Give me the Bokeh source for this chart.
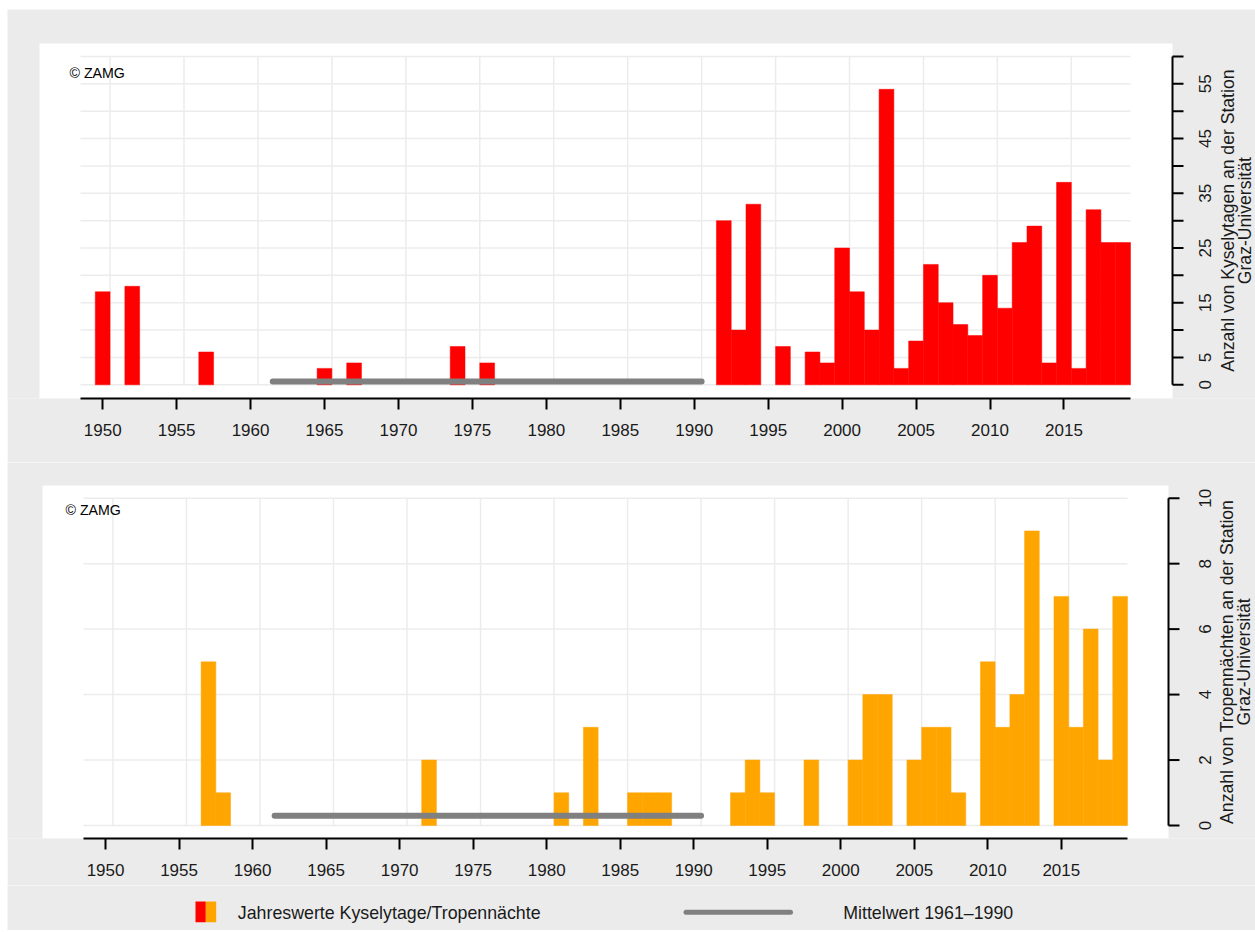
import math
import numpy as np
from bokeh.plotting import figure
from bokeh.layouts import column
from bokeh.models import FixedTicker, Range1d, Label
from bokeh.embed import file_html
from bokeh.resources import INLINE
from bokeh.core.properties import value

# ---------------- data ----------------
years = list(range(1950, 2020))

kyselytage = [
    17, 0, 18, 0, 0, 0, 0, 6, 0, 0,        # 1950-1959
    0, 0, 0, 0, 0, 3, 0, 4, 0, 0,          # 1960-1969
    0, 0, 0, 0, 7, 0, 4, 0, 0, 0,          # 1970-1979
    0, 0, 0, 0, 0, 0, 0, 0, 0, 0,          # 1980-1989
    0, 0, 30, 10, 33, 0, 7, 0, 6, 4,       # 1990-1999
    25, 17, 10, 54, 3, 8, 22, 15, 11, 9,   # 2000-2009
    20, 14, 26, 29, 4, 37, 3, 32, 26, 26,  # 2010-2019
]

tropennaechte = [
    0, 0, 0, 0, 0, 0, 0, 5, 1, 0,          # 1950-1959
    0, 0, 0, 0, 0, 0, 0, 0, 0, 0,          # 1960-1969
    0, 0, 2, 0, 0, 0, 0, 0, 0, 0,          # 1970-1979
    0, 1, 0, 3, 0, 0, 1, 1, 1, 0,          # 1980-1989
    0, 0, 0, 1, 2, 1, 0, 0, 2, 0,          # 1990-1999
    0, 2, 4, 4, 0, 2, 3, 3, 1, 0,          # 2000-2009
    5, 3, 4, 9, 0, 7, 3, 6, 2, 7,          # 2010-2019
]

x_ticks = [1950, 1955, 1960, 1965, 1970, 1975, 1980, 1985, 1990, 1995,
           2000, 2005, 2010, 2015]
x_grid = [1950.5, 1955.5, 1960.5, 1965.5, 1970.5, 1975.5, 1980.5, 1985.5,
          1990.5, 1995.5, 2000.5, 2005.5, 2010.5, 2015.5]
top_y_ticks = [0, 5, 10, 15, 20, 25, 30, 35, 40, 45, 50, 55, 60]
top_y_labels = [0, 5, 15, 25, 35, 45, 55]
bot_y_ticks = [0, 2, 4, 6, 8, 10]
bot_y_labels = [0, 2, 4, 6, 8, 10]

ref_start, ref_end = 1961, 1990
top_title = ["Anzahl von Kyselytagen an der Station", "Graz-Universität"]
bot_title = ["Anzahl von Tropennächten an der Station", "Graz-Universität"]
legend_labels = ["Jahreswerte Kyselytage/Tropennächte", "Mittelwert 1961\u20131990"]

# ---------------- style ----------------
FONT = "Liberation Sans"
BG = "#ebebeb"
GRID = "#ececec"
RED = "#ff0000"
ORANGE = "#ffa500"
MEAN_COL = "#808080"
TXT = "#1a1a1a"
OX, OY = 7, 9          # page offset of the grey area
W = 1255 - OX

X_IN = (1948.5, 2019.5)


def chart(vals, color, yticks, ylabels, ymax, title, fig_top, height,
          panel, inner, label_center, title_centers, zamg):
    p_left, p_right, p_top, p_bottom = panel
    in_left, in_right, in_top, in_base = inner
    ppx = (in_right - in_left) / (X_IN[1] - X_IN[0])
    ppy = (in_base - in_top) / ymax

    def dx(px):
        return X_IN[0] + (px - in_left) / ppx

    def dy(py):
        return (in_base - py) / ppy

    p = figure(width=W, height=height, output_backend="svg", toolbar_location=None,
               x_range=Range1d(dx(OX), dx(OX + W)),
               y_range=Range1d(dy(p_bottom), dy(fig_top)),
               x_axis_location="below", y_axis_location=None,
               min_border_left=0, min_border_right=0, min_border_top=0,
               min_border_bottom=fig_top + height - p_bottom,
               background_fill_color=BG, border_fill_color=BG,
               outline_line_color=None, frame_align=False)
    p.xgrid.visible = False
    p.ygrid.visible = False

    # white panel
    p.quad(left=[dx(p_left)], right=[dx(p_right)], top=[dy(p_top)],
           bottom=[dy(p_bottom)], fill_color="white", line_color=None)

    # grid lines inside the inner plot region
    p.segment(x0=x_grid, x1=x_grid, y0=[0] * len(x_grid), y1=[ymax] * len(x_grid),
              line_color=GRID, line_width=1.5)
    p.segment(x0=[X_IN[0]] * len(yticks), x1=[X_IN[1]] * len(yticks),
              y0=yticks, y1=yticks, line_color=GRID, line_width=1.5)

    # bars
    bx = [y for y, v in zip(years, vals) if v > 0]
    bv = [v for v in vals if v > 0]
    p.vbar(x=bx, top=bv, bottom=0, width=1.0, fill_color=color,
           line_color=color, line_width=0.5)

    # mean 1961-1990
    ref = [v for y, v in zip(years, vals) if ref_start <= y <= ref_end]
    m = float(np.mean(ref))
    p.line(x=[ref_start + 0.5, ref_end + 0.5], y=[m, m], line_color=MEAN_COL,
           line_width=6, line_cap="round")

    # bottom x axis
    xa = p.xaxis[0]
    xa.ticker = FixedTicker(ticks=x_ticks)
    xa.bounds = X_IN
    xa.axis_line_color = "black"
    xa.axis_line_width = 2
    xa.major_tick_line_color = "black"
    xa.major_tick_line_width = 2
    xa.major_tick_out = 11
    xa.major_tick_in = 0
    xa.minor_tick_line_color = None
    xa.major_label_text_font = FONT
    xa.major_label_text_font_size = "17px"
    xa.major_label_text_color = TXT
    xa.major_label_standoff = 14

    # right y axis (line, ticks, labels reading bottom-to-top)
    ax = dx(p_right)
    p.segment(x0=[ax], x1=[ax], y0=[0], y1=[ymax], line_color="black", line_width=2)
    p.segment(x0=[ax] * len(yticks), x1=[dx(p_right + 11)] * len(yticks),
              y0=yticks, y1=yticks, line_color="black", line_width=2)
    p.text(x=[dx(label_center)] * len(ylabels), y=ylabels,
           text=[str(v) for v in ylabels], angle=math.pi / 2,
           text_align="center", text_baseline="middle",
           text_font=value(FONT), text_font_size="17px", text_color=TXT)

    # axis title, two lines
    p.text(x=[dx(c) for c in title_centers], y=[ymax / 2] * len(title), text=title,
           angle=math.pi / 2, text_align="center", text_baseline="middle",
           text_font=value(FONT), text_font_size="17.6px", text_color=TXT)

    p.add_layout(Label(x=dx(zamg[0]), y=dy(zamg[1]), text="\u00a9 ZAMG",
                       text_align="left", text_baseline="middle", text_font=FONT,
                       text_font_size="14.2px", text_color="black"))
    return p


p1 = chart(kyselytage, RED, top_y_ticks, top_y_labels, 60, top_title,
           fig_top=OY, height=453,
           panel=(39, 1172, 43, 398), inner=(80, 1130, 56, 384.3),
           label_center=1204, title_centers=(1227, 1244), zamg=(69, 72.7))

p2 = chart(tropennaechte, ORANGE, bot_y_ticks, bot_y_labels, 10, bot_title,
           fig_top=462, height=423,
           panel=(42, 1168, 485, 838), inner=(83, 1127, 497.7, 825),
           label_center=1204, title_centers=(1226, 1243), zamg=(65, 509))

# ---------------- legend strip ----------------
LT = 885
LH = 930 - LT
pl = figure(width=W, height=LH,
            output_backend="svg", toolbar_location=None,
            x_range=Range1d(OX, OX + W), y_range=Range1d(LT + LH, LT),
            x_axis_location=None, y_axis_location=None,
            min_border=0, min_border_left=0, min_border_right=0,
            min_border_top=0, min_border_bottom=0, frame_align=False,
            background_fill_color=BG, border_fill_color=BG, outline_line_color=None)
pl.grid.visible = False
pl.quad(left=[195, 205.3], right=[205.3, 215.7], top=[901, 901], bottom=[921.7, 921.7],
        fill_color=[RED, ORANGE], line_color=None)
pl.line(x=[685.5, 790], y=[911.7, 911.7], line_color=MEAN_COL, line_width=5,
        line_cap="round")
pl.text(x=[237.3, 842.7], y=[912, 912], text=legend_labels,
        text_font=value(FONT), text_font_size="17.8px", text_color=TXT,
        text_align="left", text_baseline="middle")

layout = column(p1, p2, pl, spacing=0, margin=(OY, 0, 0, OX))
open("out.html", "w").write(file_html(layout, INLINE))
